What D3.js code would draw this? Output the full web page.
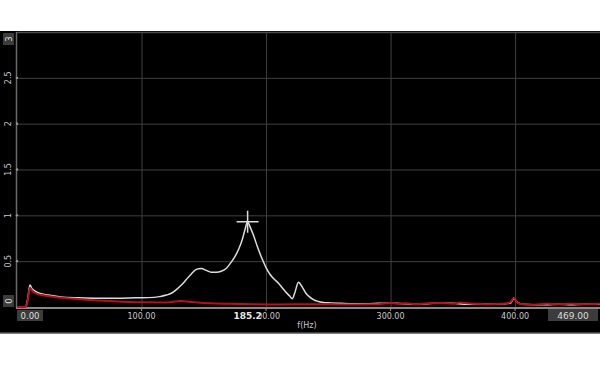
<!DOCTYPE html>
<html>
<head>
<meta charset="utf-8">
<script src="https://cdn.jsdelivr.net/npm/d3@7"></script>
<style>
  body { margin: 0; background: #fff; }
  svg { display: block; }
  text { font-family: "DejaVu Sans", sans-serif; }
</style>
</head>
<body>
<svg id="chart" width="600" height="365"></svg>
<script>
const svg = d3.select('#chart')
const gridColor = '#404040'
const labelColor = '#c8c8c8'

// frequency axis ticks / value axis ticks
const xTicks = [100, 200, 300, 400]
const yTicks = [0.5, 1, 1.5, 2, 2.5]
const xMax = 469
const yMax = 3
const peakFreq = 185.2
const peakVal = 0.93

// white trace (f, value)
const whiteF = [0, 7, 8.5, 10.4, 12, 15, 18, 25, 35, 50, 65, 80, 95, 110, 115, 120, 124, 128, 132, 136, 140, 144, 148, 152, 156, 160, 164, 168, 171, 175, 178, 181, 183, 185.2, 187, 190, 193, 197, 200, 203, 206, 210, 213, 216, 219, 221, 223, 226, 229, 232, 235, 238, 242, 246, 252, 260, 270, 280, 290, 300, 305, 312, 320, 330, 340, 350, 355, 362, 370, 380, 390, 396, 399, 402, 406, 415, 425, 435, 445, 455, 469]
const whiteV = [0, 0, 0.08, 0.24, 0.2, 0.17, 0.15, 0.13, 0.11, 0.1, 0.095, 0.095, 0.1, 0.105, 0.115, 0.13, 0.15, 0.19, 0.24, 0.3, 0.36, 0.41, 0.42, 0.4, 0.38, 0.38, 0.39, 0.42, 0.47, 0.55, 0.63, 0.74, 0.84, 0.93, 0.88, 0.78, 0.66, 0.52, 0.43, 0.36, 0.31, 0.26, 0.21, 0.16, 0.12, 0.09, 0.15, 0.27, 0.22, 0.15, 0.11, 0.08, 0.06, 0.05, 0.045, 0.04, 0.035, 0.035, 0.04, 0.045, 0.04, 0.035, 0.03, 0.035, 0.045, 0.04, 0.035, 0.03, 0.035, 0.03, 0.035, 0.04, 0.09, 0.05, 0.03, 0.025, 0.025, 0.03, 0.025, 0.03, 0.03]

// red trace (f, value)
const redF = [0, 7, 8.5, 10.4, 12, 15, 20, 30, 40, 55, 75, 100, 120, 131, 136, 145, 155, 170, 190, 210, 230, 250, 270, 290, 300, 305, 312, 320, 330, 340, 350, 356, 362, 370, 380, 390, 396, 399, 402, 406, 415, 425, 435, 445, 455, 469]
const redV = [0, 0, 0.06, 0.21, 0.18, 0.15, 0.13, 0.11, 0.095, 0.08, 0.065, 0.052, 0.05, 0.065, 0.06, 0.048, 0.04, 0.035, 0.03, 0.028, 0.03, 0.03, 0.028, 0.03, 0.045, 0.035, 0.04, 0.03, 0.04, 0.045, 0.035, 0.05, 0.04, 0.035, 0.03, 0.035, 0.05, 0.1, 0.045, 0.03, 0.025, 0.035, 0.03, 0.035, 0.03, 0.035]

const white = whiteF.map((f, i) => ({ f, v: whiteV[i] }))
const red = redF.map((f, i) => ({ f, v: redV[i] }))

const xScale = d3.scaleLinear().domain([0, xMax]).range([17, 601])
const yScale = d3.scaleLinear().domain([0, yMax]).range([307, 32])

// black panel
svg.append('rect').attr('x', 0).attr('y', 31).attr('width', 600).attr('height', 302).attr('fill', '#000')
svg.append('line').attr('x1', 0).attr('x2', 600).attr('y1', 333).attr('y2', 333).attr('stroke', '#555').attr('stroke-width', 1.5)

// grid
svg.append('g')
  .call(d3.axisLeft(yScale).tickValues(yTicks).tickSize(-(600 - 17)).tickFormat(''))
  .attr('transform', 'translate(17,0)')
  .call(g => g.select('.domain').remove())
  .selectAll('.tick line').attr('stroke', gridColor)

svg.append('g')
  .call(d3.axisBottom(xScale).tickValues(xTicks).tickSize(-(307 - 32)).tickFormat(''))
  .attr('transform', 'translate(0,308)')
  .call(g => g.select('.domain').remove())
  .selectAll('.tick line').attr('stroke', gridColor)

// frame lines
svg.append('line').attr('x1', 17).attr('x2', 600).attr('y1', 32.5).attr('y2', 32.5).attr('stroke', '#4a4a4a').attr('stroke-width', 1.5)
svg.append('line').attr('x1', 16.5).attr('x2', 16.5).attr('y1', 32).attr('y2', 308).attr('stroke', '#6a6a6a').attr('stroke-width', 1.5)
svg.append('line').attr('x1', 16).attr('x2', 600).attr('y1', 308).attr('y2', 308).attr('stroke', '#8a8a8a').attr('stroke-width', 2)

// small tick marks
svg.selectAll('.ytm').data(yTicks).enter().append('circle')
  .attr('cx', 17).attr('cy', d => yScale(d)).attr('r', 1.2).attr('fill', '#999')
svg.selectAll('.xtm').data(xTicks).enter().append('line')
  .attr('x1', d => xScale(d)).attr('x2', d => xScale(d)).attr('y1', 308).attr('y2', 311).attr('stroke', '#999')

// traces
const line = d3.line().x(d => xScale(d.f)).y(d => yScale(d.v)).curve(d3.curveMonotoneX)
svg.append('path').datum(white).attr('d', line).attr('fill', 'none').attr('stroke', '#dcdcdc').attr('stroke-width', 1.5)
svg.append('path').datum(red).attr('d', line).attr('fill', 'none').attr('stroke', '#b8101a').attr('stroke-width', 2)

// peak cursor
const px = xScale(peakFreq), py = yScale(peakVal)
svg.append('line').attr('x1', px - 11).attr('x2', px + 11).attr('y1', py).attr('y2', py).attr('stroke', '#ddd').attr('stroke-width', 1.5)
svg.append('line').attr('x1', px).attr('x2', px).attr('y1', py - 11).attr('y2', py + 11).attr('stroke', '#ddd').attr('stroke-width', 1.5)

// x tick labels
svg.selectAll('.xl').data(xTicks).enter().append('text')
  .attr('x', d => xScale(d)).attr('y', 319).attr('text-anchor', 'middle')
  .attr('font-size', 8).attr('fill', labelColor)
  .text(d => d3.format('.2f')(d))

// end labels in boxes
svg.append('rect').attr('x', 17).attr('y', 310).attr('width', 26).attr('height', 11).attr('fill', '#3c3c3c')
svg.append('text').attr('x', 30).attr('y', 319).attr('text-anchor', 'middle').attr('font-size', 8.5).attr('fill', '#ddd').text(d3.format('.2f')(0))
svg.append('rect').attr('x', 548).attr('y', 309).attr('width', 50).attr('height', 12).attr('fill', '#3c3c3c')
svg.append('text').attr('x', 573).attr('y', 319).attr('text-anchor', 'middle').attr('font-size', 9).attr('fill', '#ddd').text(d3.format('.2f')(xMax))

// peak label
svg.append('rect').attr('x', px - 14).attr('y', 310).attr('width', 27).attr('height', 10).attr('fill', '#000')
svg.append('text').attr('x', px).attr('y', 319).attr('text-anchor', 'middle')
  .attr('font-size', 9).attr('font-weight', 'bold').attr('fill', '#e8e8e8').text(peakFreq)

// axis title
svg.append('text').attr('x', 307).attr('y', 328).attr('text-anchor', 'middle')
  .attr('font-size', 8).attr('fill', labelColor).text('f(Hz)')

// y tick labels (rotated)
svg.selectAll('.yl').data(yTicks).enter().append('text')
  .attr('transform', d => `translate(11,${yScale(d)}) rotate(-90)`)
  .attr('text-anchor', 'middle').attr('font-size', 8).attr('fill', labelColor)
  .text(d => d)
svg.append('rect').attr('x', 3).attr('y', 33).attr('width', 11).attr('height', 12).attr('fill', '#3c3c3c')
svg.append('text').attr('transform', `translate(11.5,${yScale(yMax) + 7}) rotate(-90)`)
  .attr('text-anchor', 'middle').attr('font-size', 8.5).attr('fill', '#ddd').text(yMax)
svg.append('rect').attr('x', 3).attr('y', 295).attr('width', 11).attr('height', 12).attr('fill', '#3c3c3c')
svg.append('text').attr('transform', `translate(11.5,${yScale(0) - 6}) rotate(-90)`)
  .attr('text-anchor', 'middle').attr('font-size', 8.5).attr('fill', '#ddd').text(0)
</script>
</body>
</html>
